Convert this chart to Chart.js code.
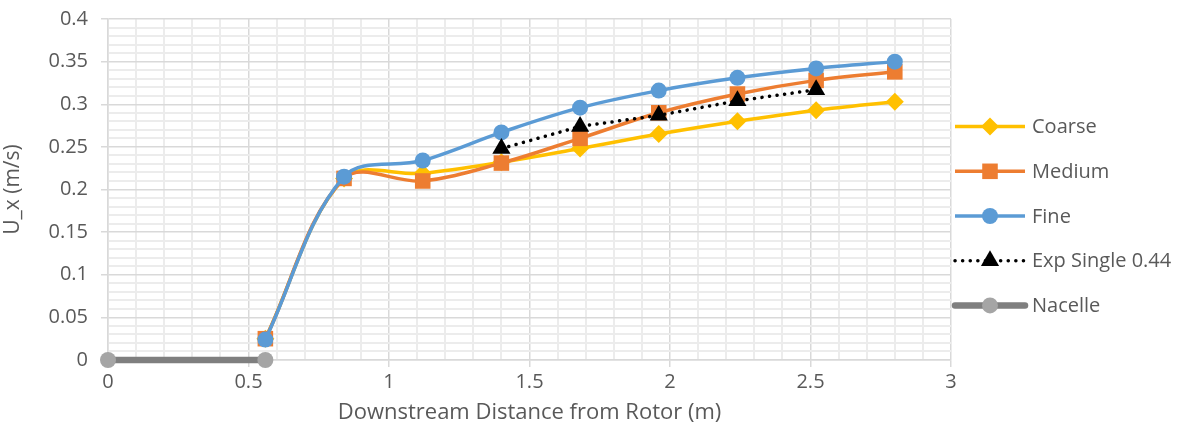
<!DOCTYPE html>
<html>
<head>
<meta charset="utf-8">
<script src="https://cdn.jsdelivr.net/npm/chart.js@4/dist/chart.umd.min.js"></script>
<style>
  html, body { margin: 0; padding: 0; background: #fff; }
  #wrap { width: 1185px; height: 426px; }
</style>
</head>
<body>
<div id="wrap"><canvas id="wakeChart" width="1185" height="426"></canvas></div>
<script>
// distances downstream of the rotor (m)
const distances = [0.56, 0.84, 1.12, 1.4, 1.68, 1.96, 2.24, 2.52, 2.8];
const coarse = [0.025, 0.213, 0.219, 0.232, 0.248, 0.265, 0.280, 0.293, 0.303];
const medium = [0.025, 0.213, 0.210, 0.231, 0.260, 0.290, 0.312, 0.328, 0.338];
const fine = [0.024, 0.215, 0.234, 0.267, 0.296, 0.316, 0.331, 0.342, 0.350];
// experiment only covers part of the range
const expDistances = [1.4, 1.68, 1.96, 2.24, 2.52];
const expSingle = [0.248, 0.274, 0.287, 0.304, 0.317];
const nacelleDistances = [0, 0.56];
const nacelle = [0, 0];

const xTicks = [0, 0.5, 1, 1.5, 2, 2.5, 3];
const yTicks = [0, 0.05, 0.1, 0.15, 0.2, 0.25, 0.3, 0.35, 0.4];

const FONT = '"Open Sans", sans-serif';
const TEXT = '#595959';

const pts = (xs, ys) => xs.map((x, i) => ({ x: x, y: ys[i] }));

const isMajor = (v, list) => list.some(t => Math.abs(t - v) < 1e-6);

function drawMarker(ctx, style, x, y, r, fill) {
  ctx.save();
  ctx.fillStyle = fill;
  ctx.beginPath();
  if (style === 'circle') {
    ctx.arc(x, y, r, 0, Math.PI * 2);
  } else if (style === 'rect') {
    const h = r / Math.SQRT2;
    ctx.rect(x - h, y - h, h * 2, h * 2);
  } else if (style === 'rectRot') {
    ctx.moveTo(x, y - r); ctx.lineTo(x + r, y);
    ctx.lineTo(x, y + r); ctx.lineTo(x - r, y);
  } else if (style === 'triangle') {
    const s = r * 3 / Math.sqrt(3);
    const h = s * Math.sqrt(3) / 2;
    ctx.moveTo(x, y - h * 2 / 3); ctx.lineTo(x + s / 2, y + h / 3);
    ctx.lineTo(x - s / 2, y + h / 3);
  }
  ctx.closePath();
  ctx.fill();
  ctx.restore();
}

// legend drawn by hand so each entry shows line + marker like the original
const sideLegend = {
  id: 'sideLegend',
  afterDraw(chart) {
    const ctx = chart.ctx;
    const sets = chart.data.datasets;
    const step = 44.7;
    const top = 216 - step * (sets.length - 1) / 2;
    sets.forEach((ds, i) => {
      const y = top + i * step;
      ctx.save();
      ctx.strokeStyle = ds.borderColor;
      ctx.lineWidth = ds.borderWidth;
      ctx.lineCap = ds.borderCapStyle || 'butt';
      if (ds.borderDash) ctx.setLineDash(ds.borderDash);
      ctx.beginPath();
      ctx.moveTo(955, y);
      ctx.lineTo(1025, y);
      ctx.stroke();
      ctx.restore();
      drawMarker(ctx, ds.pointStyle, 990, y, ds.pointRadius, ds.pointBackgroundColor);
      ctx.save();
      ctx.fillStyle = TEXT;
      ctx.font = '20px ' + FONT;
      ctx.textBaseline = 'middle';
      ctx.fillText(ds.label, 1032, y + 1);
      ctx.restore();
    });
  }
};

new Chart(document.getElementById('wakeChart'), {
  type: 'line',
  data: {
    datasets: [
      {
        label: 'Coarse',
        data: pts(distances, coarse),
        borderColor: '#FFC000', backgroundColor: '#FFC000',
        pointBackgroundColor: '#FFC000', pointBorderWidth: 0,
        borderWidth: 3.5, pointStyle: 'rectRot', pointRadius: 9,
        tension: 0.35, order: 5, clip: false
      },
      {
        label: 'Medium',
        data: pts(distances, medium),
        borderColor: '#ED7D31', backgroundColor: '#ED7D31',
        pointBackgroundColor: '#ED7D31', pointBorderWidth: 0,
        borderWidth: 3.5, pointStyle: 'rect', pointRadius: 11,
        tension: 0.35, order: 4, clip: false
      },
      {
        label: 'Fine',
        data: pts(distances, fine),
        borderColor: '#5B9BD5', backgroundColor: '#5B9BD5',
        pointBackgroundColor: '#5B9BD5', pointBorderWidth: 0,
        borderWidth: 3.5, pointStyle: 'circle', pointRadius: 8,
        tension: 0.35, order: 3, clip: false
      },
      {
        label: 'Exp Single 0.44',
        data: pts(expDistances, expSingle),
        borderColor: '#000000', backgroundColor: '#000000',
        pointBackgroundColor: '#000000', pointBorderWidth: 0,
        borderWidth: 3.5, borderDash: [0.1, 7.5], borderCapStyle: 'round',
        pointStyle: 'triangle', pointRadius: 10.5,
        tension: 0, order: 2, clip: false
      },
      {
        label: 'Nacelle',
        data: pts(nacelleDistances, nacelle),
        borderColor: '#7F7F7F', backgroundColor: '#A5A5A5',
        pointBackgroundColor: '#A5A5A5', pointBorderWidth: 0,
        borderWidth: 6.5, borderCapStyle: 'round', pointStyle: 'circle', pointRadius: 8,
        tension: 0, order: 1, clip: false
      }
    ]
  },
  options: {
    responsive: false,
    animation: false,
    events: [],
    layout: { padding: { top: 19, right: 234, left: 0, bottom: 0 } },
    plugins: {
      legend: { display: false },
      tooltip: { enabled: false }
    },
    scales: {
      x: {
        type: 'linear',
        min: 0, max: 3,
        afterFit: s => { s.height = 66; s.paddingLeft = 0; s.paddingRight = 0; },
        ticks: {
          stepSize: 0.1,
          autoSkip: false,
          maxRotation: 0,
          padding: 3,
          color: TEXT,
          font: { family: FONT, size: 20 },
          callback: v => isMajor(v, xTicks) ? String(Math.round(v * 10) / 10) : ''
        },
        grid: {
          color: c => isMajor(c.tick.value, xTicks) ? '#d9d9d9' : '#ececec',
          lineWidth: c => isMajor(c.tick.value, xTicks) ? 1.5 : 2,
          tickColor: c => isMajor(c.tick.value, xTicks) ? '#d9d9d9' : 'rgba(0,0,0,0)',
          tickLength: 7
        },
        border: { color: '#d9d9d9', width: 1.5 },
        title: {
          display: true,
          text: 'Downstream Distance from Rotor (m)',
          color: TEXT,
          font: { family: FONT, size: 22 },
          padding: { top: -16, bottom: 0 }
        }
      },
      y: {
        min: 0, max: 0.4,
        afterFit: s => { s.width = 108; s.paddingTop = 0; s.paddingBottom = 0; },
        ticks: {
          stepSize: 0.01,
          autoSkip: false,
          padding: 13,
          color: TEXT,
          font: { family: FONT, size: 20 },
          callback: v => isMajor(v, yTicks) ? String(Math.round(v * 100) / 100) : ''
        },
        grid: {
          color: c => isMajor(c.tick.value, yTicks) ? '#d9d9d9' : '#ececec',
          lineWidth: c => isMajor(c.tick.value, yTicks) ? 1.5 : 2,
          tickColor: c => isMajor(c.tick.value, yTicks) ? '#d9d9d9' : 'rgba(0,0,0,0)',
          tickLength: 7
        },
        border: { color: '#d9d9d9', width: 1.5 },
        title: {
          display: true,
          text: 'U_x (m/s)',
          color: TEXT,
          font: { family: FONT, size: 21 },
          padding: { top: 0, bottom: 4 }
        }
      }
    }
  },
  plugins: [sideLegend]
});
</script>
</body>
</html>
